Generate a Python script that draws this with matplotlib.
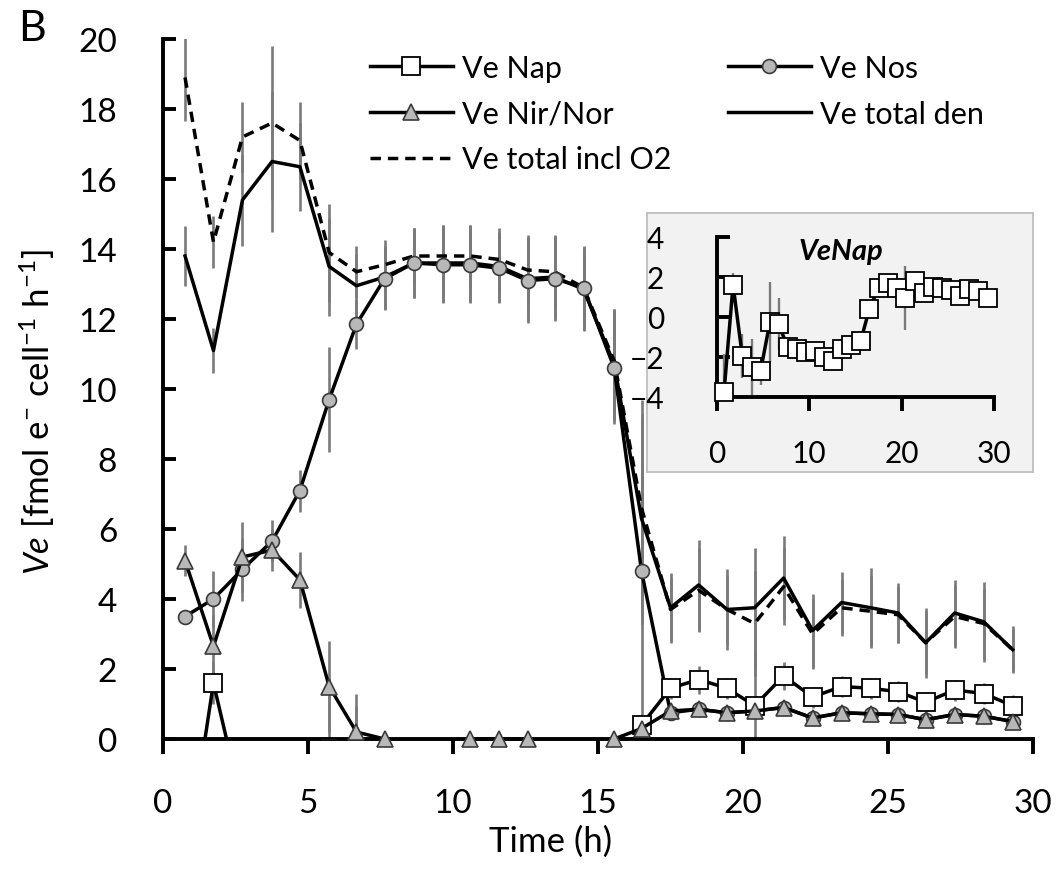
import numpy as np
import matplotlib
matplotlib.use('Agg')
import matplotlib.pyplot as plt
from matplotlib.lines import Line2D

plt.rcParams['font.family'] = ['Lato', 'DejaVu Sans']
plt.rcParams['mathtext.fontset'] = 'custom'
plt.rcParams['mathtext.rm'] = 'Lato'
plt.rcParams['mathtext.it'] = 'Lato:italic'
plt.rcParams['mathtext.bf'] = 'Lato:bold'

nan = np.nan

time_h = [0.76, 1.74, 2.74, 3.76, 4.72, 5.73, 6.67, 7.64, 8.65, 9.65, 10.6, 11.6,
          12.57, 13.5, 14.5, 15.56, 16.5, 17.5, 18.47, 19.45, 20.4, 21.4, 22.4,
          23.4, 24.4, 25.35, 26.3, 27.3, 28.3, 29.3]

ve_nap = [-3.75, 1.6, -1.95, -2.5, -2.7, -0.25, -0.35, -1.5, -1.6, -1.75, -1.7, -2.0,
          -2.2, -1.6, -1.4, -1.2, 0.4, 1.45, 1.7, 1.45, 0.95, 1.8, 1.2, 1.5, 1.45,
          1.35, 1.05, 1.4, 1.3, 0.95]
ve_nap_err = [1.9, 0.6, 1.1, 1.4, 0.7, 2.0, 1.3, 0.4, 0.3, 0.3, 0.3, 0.3, 0.4, 0.3,
              0.3, 0.3, 0.3, 0.3, 0.4, 0.3, 1.6, 0.4, 0.3, 0.3, 0.3, 0.3, 0.3, 0.3,
              0.3, 0.3]

ve_nos = [3.5, 4.0, 4.85, 5.65, 7.1, 9.7, 11.85, 13.15, 13.6, 13.55, 13.55, 13.45,
          13.1, 13.15, 12.9, 10.6, 4.8, 0.75, 0.85, 0.75, 0.8, 0.9, 0.6, 0.75, 0.72,
          0.7, 0.55, 0.7, 0.65, 0.5]
ve_nos_err = [0.2, 0.8, 0.9, 0.6, 0.6, 1.5, 0.7, 0.9, 1.0, 1.1, 1.1, 1.0, 1.2, 1.2,
              1.2, 1.6, 4.9, 0.2, 0.2, 0.2, 0.2, 0.2, 0.2, 0.2, 0.2, 0.2, 0.2, 0.2,
              0.2, 0.2]

ve_nirnor = [5.1, 2.65, 5.2, 5.4, 4.55, 1.5, 0.2, 0.0, nan, nan, 0.0, 0.0, 0.0, nan,
             nan, 0.0, 0.3, 0.8, 0.85, 0.75, 0.8, 0.9, 0.6, 0.75, 0.72, 0.7, 0.55,
             0.7, 0.65, 0.5]
ve_nirnor_err = [0.45, 0.9, 1.0, 0.6, 0.8, 1.3, 1.1, 0.0, 0.0, 0.0, 0.0, 0.0, 0.0,
                 0.0, 0.0, 0.0, 0.2, 0.2, 0.2, 0.2, 0.2, 0.2, 0.2, 0.2, 0.2, 0.2,
                 0.2, 0.2, 0.2, 0.2]

ve_total_den = [13.8, 11.1, 15.4, 16.5, 16.35, 13.5, 12.95, 13.2, 13.6, 13.6, 13.6,
                13.5, 13.15, 13.2, 12.85, 10.7, 6.3, 3.75, 4.4, 3.7, 3.75, 4.6, 3.1,
                3.9, 3.75, 3.6, 2.75, 3.6, 3.35, 2.55]
ve_total_den_err = [0.85, 0.65, 1.3, 2.0, 1.25, 1.4, 0.9, 0.9, 1.0, 1.1, 1.1, 1.0,
                    1.2, 1.2, 1.2, 1.6, 3.0, 1.0, 1.3, 1.15, 1.7, 1.2, 1.05, 0.87,
                    1.15, 0.85, 1.0, 0.93, 1.15, 0.67]

ve_total_o2 = [18.9, 14.2, 17.2, 17.6, 17.1, 13.9, 13.35, 13.55, 13.8, 13.8, 13.8,
               13.7, 13.4, 13.35, 12.9, 10.8, 6.6, 3.7, 4.25, 3.7, 3.3, 4.35, 3.0,
               3.75, 3.65, 3.55, 2.75, 3.5, 3.3, 2.55]
ve_total_o2_err = [1.25, 0.75, 1.0, 2.2, 1.1, 1.4, 0.75, 0.7, 0.8, 0.9, 0.9, 0.9,
                   1.0, 1.0, 1.0, 1.5, 2.5, 0.9, 1.2, 1.0, 1.5, 1.1, 1.0, 0.8, 1.0,
                   0.8, 0.9, 0.9, 1.0, 0.6]

main_xticks = [0, 5, 10, 15, 20, 25, 30]
main_yticks = [0, 2, 4, 6, 8, 10, 12, 14, 16, 18, 20]
inset_xticks = [0, 10, 20, 30]
inset_yticks = [-4, -2, 0, 2, 4]

W, H = 1059, 870
fig = plt.figure(figsize=(W / 100, H / 100), dpi=100)


def fx(px):
    return px / W


def fy(py):
    return 1 - py / H


GRAY_ERR = '#7a7a7a'
MFILL = '#b8b8b8'
MEDGE = '#3a3a3a'
LW = 2.5
SP = 2.8

ax = fig.add_axes([fx(163), fy(740), (1033 - 163) / W, (740 - 40) / H])
ax.set_xlim(0, 30)
ax.set_ylim(0, 20)

for y, e in [(ve_total_o2, ve_total_o2_err), (ve_total_den, ve_total_den_err),
             (ve_nos, ve_nos_err), (ve_nirnor, ve_nirnor_err), (ve_nap, ve_nap_err)]:
    ax.errorbar(time_h, y, yerr=e, fmt='none', ecolor=GRAY_ERR, elinewidth=1.9,
                capsize=0, zorder=2)

ax.plot(time_h, ve_total_o2, color='k', lw=LW, ls=(0, (3, 2)), zorder=3)
ax.plot(time_h, ve_total_den, color='k', lw=LW, zorder=3)
ax.plot(time_h, ve_nos, color='k', lw=LW, marker='o', ms=10, mfc=MFILL, mec=MEDGE,
        mew=1.2, zorder=4)
ax.plot(time_h, ve_nap, color='k', lw=LW, marker='s', ms=13.5, mfc='white', mec='k',
        mew=1.3, zorder=5)
ax.plot(time_h, ve_nirnor, color='k', lw=LW, marker='^', ms=11, mfc=MFILL, mec=MEDGE,
        mew=1.2, zorder=6, clip_on=False)

for s in ['top', 'right']:
    ax.spines[s].set_visible(False)
for s in ['left', 'bottom']:
    ax.spines[s].set_linewidth(SP)
    ax.spines[s].set_color('k')
ax.set_xticks(main_xticks)
ax.set_yticks(main_yticks)
ax.tick_params(axis='y', direction='in', length=9, width=SP, pad=33, labelsize=24)
ax.tick_params(axis='x', direction='out', length=11, width=SP, pad=24, labelsize=24)

# legends
h_nap = Line2D([], [], color='k', lw=LW, marker='s', ms=13, mfc='white', mec='k', mew=1.3)
h_nir = Line2D([], [], color='k', lw=LW, marker='^', ms=11, mfc=MFILL, mec=MEDGE, mew=1.2)
h_o2 = Line2D([], [], color='k', lw=LW, ls=(0, (3, 2)))
h_nos = Line2D([], [], color='k', lw=LW, marker='o', ms=10, mfc=MFILL, mec=MEDGE, mew=1.2)
h_den = Line2D([], [], color='k', lw=LW)

legkw = dict(loc='upper left', frameon=False, fontsize=22, handlelength=2.7,
             handletextpad=0.3, labelspacing=0.58, borderpad=0, borderaxespad=0,
             bbox_transform=fig.transFigure, numpoints=1)
leg1 = ax.legend([h_nap, h_nir, h_o2], ['Ve Nap', 'Ve Nir/Nor', 'Ve total incl O2'],
                 bbox_to_anchor=(fx(370), fy(55)), **legkw)
ax.add_artist(leg1)
leg2 = ax.legend([h_nos, h_den], ['Ve Nos', 'Ve total den'],
                 bbox_to_anchor=(fx(728), fy(55)), **legkw)

# labels
fig.text(fx(18), fy(29), 'B', fontsize=31, va='center', ha='left')
fig.text(fx(37), fy(412),
         r'$\mathit{Ve}$ [fmol e$^{\mathrm{-}}$ cell$^{\mathrm{-1}}$ h$^{\mathrm{-1}}$]',
         rotation=90, ha='center', va='center', fontsize=25)
fig.text(fx(551), fy(842), 'Time (h)', ha='center', va='center', fontsize=25)

# inset
bg = fig.add_axes([fx(647), fy(473), (1033 - 647) / W, (473 - 214) / H])
bg.set_facecolor('#f2f2f2')
bg.set_xticks([])
bg.set_yticks([])
for s in bg.spines.values():
    s.set_color('#bfbfbf')
    s.set_linewidth(1.3)

ain = fig.add_axes([fx(717), fy(398), (994 - 717) / W, (398 - 238) / H])
ain.patch.set_alpha(0)
ain.set_xlim(0, 30)
ain.set_ylim(-4, 4)
ain.errorbar(time_h, ve_nap, yerr=ve_nap_err, fmt='none', ecolor=GRAY_ERR,
             elinewidth=1.7, capsize=0, zorder=2)
ain.plot(time_h, ve_nap, color='k', lw=LW, marker='s', ms=13.5, mfc='white', mec='k',
         mew=1.3, zorder=5, clip_on=False)
for s in ['top', 'right']:
    ain.spines[s].set_visible(False)
for s in ['left', 'bottom']:
    ain.spines[s].set_linewidth(SP)
ain.set_xticks(inset_xticks)
ain.set_yticks(inset_yticks)
ain.tick_params(axis='y', direction='in', length=9, width=SP, pad=38, labelsize=21.5)
ain.tick_params(axis='x', direction='out', length=10, width=SP, pad=20, labelsize=21.5)
ain.text(8.8, 3.3, 'VeNap', fontsize=21, fontweight='bold', fontstyle='italic',
         ha='left', va='center')

fig.savefig('out.png', dpi=100)
